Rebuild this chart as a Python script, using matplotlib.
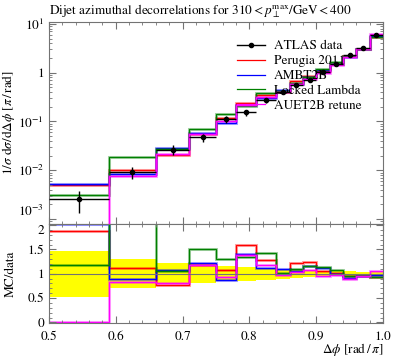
import numpy as np
import matplotlib
matplotlib.use("Agg")
import matplotlib.pyplot as plt
from matplotlib.ticker import MultipleLocator, LogLocator, NullFormatter, FixedLocator
from matplotlib.lines import Line2D

plt.rcParams['font.family'] = ['STIXGeneral', 'DejaVu Serif']
plt.rcParams['mathtext.fontset'] = 'stix'

# bin edges in delta phi [rad/pi]
edges = [0.5, 0.59, 0.66, 0.71, 0.75, 0.78, 0.81, 0.84, 0.86, 0.88, 0.90, 0.92, 0.94, 0.96, 0.98, 1.0]

# ATLAS data and relative uncertainties
data = [2.6e-3, 9.2e-3, 0.0265, 0.047, 0.11, 0.153, 0.27, 0.41, 0.56, 0.70, 1.04, 1.5, 2.3, 3.2, 5.9]
rel_up = [0.47, 0.30, 0.23, 0.20, 0.16, 0.13, 0.11, 0.09, 0.08, 0.07, 0.06, 0.05, 0.05, 0.04, 0.04]
rel_dn = [0.48, 0.29, 0.21, 0.20, 0.14, 0.14, 0.12, 0.10, 0.08, 0.07, 0.06, 0.05, 0.05, 0.04, 0.04]

# MC predictions
perugia = [4.9e-3, 0.0103, 0.0204, 0.055, 0.119, 0.242, 0.348, 0.41, 0.678, 0.875, 1.09, 1.53, 2.21, 3.07, 5.49]
ambt2b = [5.27e-3, 0.0083, 0.0286, 0.057, 0.095, 0.216, 0.302, 0.451, 0.594, 0.805, 1.16, 1.49, 2.09, 3.07, 5.72]
locked = [3.05e-3, 0.0189, 0.0278, 0.0705, 0.143, 0.205, 0.383, 0.414, 0.616, 0.812, 1.19, 1.62, 2.21, 3.1, 5.49]
auet2b = [0.0, 7.6e-3, 0.0217, 0.055, 0.102, 0.213, 0.316, 0.402, 0.577, 0.749, 0.99, 1.46, 2.05, 3.07, 6.2]

mc_names = ['Perugia 2011', 'AMBT2B', 'Locked Lambda', 'AUET2B retune']
mc_vals = [perugia, ambt2b, locked, auet2b]
mc_colors = ['red', 'blue', 'green', 'magenta']

edges_a = np.array(edges)
data_a = np.array(data)
centers = 0.5 * (edges_a[1:] + edges_a[:-1])
half = 0.5 * np.diff(edges_a)

fs = 9.5
fig = plt.figure(figsize=(3.97, 3.58), dpi=100)
ax = fig.add_axes([0.123, 0.374, 0.842, 0.565])
rax = fig.add_axes([0.123, 0.098, 0.842, 0.276], sharex=ax)

spine_col = '0.45'
for a in (ax, rax):
    for s in a.spines.values():
        s.set_color(spine_col)
        s.set_linewidth(0.8)
    a.tick_params(which='both', direction='in', top=True, right=True, color=spine_col, labelsize=fs)
    a.tick_params(which='major', length=5)
    a.tick_params(which='minor', length=2.5)

# main panel
ax.set_yscale('log')
for vals, col in zip(mc_vals, mc_colors):
    v = np.array(vals)
    ax.stairs(v, edges_a, baseline=None, color=col, lw=2.2, alpha=0.35)
    ax.stairs(v, edges_a, baseline=None, color=col, lw=0.9)
ax.errorbar(centers, data_a, xerr=half, yerr=[data_a * np.array(rel_dn), data_a * np.array(rel_up)],
            fmt='o', color='black', ms=3, elinewidth=1, capsize=0, zorder=5)
ax.set_xlim(0.5, 1.0)
ax.set_ylim(7.9e-4, 11)
ax.yaxis.set_major_locator(FixedLocator([1e-3, 1e-2, 1e-1, 1, 10]))
ax.yaxis.set_minor_locator(LogLocator(base=10, subs=np.arange(2, 10)))
ax.yaxis.set_minor_formatter(NullFormatter())
ax.set_yticklabels([r'$10^{-3}$', r'$10^{-2}$', r'$10^{-1}$', '1', r'$10^{1}$'])
ax.get_yticklabels()[0].set_va('bottom')
ax.xaxis.set_major_locator(MultipleLocator(0.1))
ax.xaxis.set_minor_locator(MultipleLocator(0.02))
plt.setp(ax.get_xticklabels(), visible=False)
ax.set_ylabel(r'$1/\sigma\ \mathrm{d}\sigma/\mathrm{d}\Delta\phi\ [\pi\,/\,\mathrm{rad}]$', fontsize=fs)
ax.set_title(r'Dijet azimuthal decorrelations for $310 < p_{\perp}^{\mathrm{max}}/\mathrm{GeV} < 400$',
             loc='left', fontsize=9.5, pad=5)

handles = [Line2D([], [], color='black', marker='o', ms=3, lw=1)]
handles += [Line2D([], [], color=c, lw=0.9) for c in mc_colors]
ax.legend(handles, ['ATLAS data'] + mc_names, loc='upper left', bbox_to_anchor=(0.535, 0.955),
          frameon=False, fontsize=fs, handlelength=2.1, handletextpad=0.7, labelspacing=0.2,
          borderpad=0.2)

# ratio panel
rax.stairs(1 + np.array(rel_up), edges_a, baseline=1 - np.array(rel_dn), fill=True,
           color='yellow', lw=0)
rax.axhline(1, color='0.45', lw=0.8)
for vals, col in zip(mc_vals, mc_colors):
    r = np.array(vals) / data_a
    rax.stairs(r, edges_a, baseline=None, color=col, lw=2.2, alpha=0.35)
    rax.stairs(r, edges_a, baseline=None, color=col, lw=0.9)
rax.set_ylim(-0.01, 2.02)
rax.yaxis.set_major_locator(FixedLocator([0, 0.5, 1, 1.5, 2]))
rax.yaxis.set_minor_locator(MultipleLocator(0.1))
rax.set_yticklabels(['0', '0.5', '1', '1.5', '2'])
rax.get_yticklabels()[-1].set_va('top')
rax.set_xticks([0.5, 0.6, 0.7, 0.8, 0.9, 1.0])
rax.set_xticklabels(['0.5', '0.6', '0.7', '0.8', '0.9', '1.0'])
rax.tick_params(axis='x', pad=6)
rax.set_ylabel('MC/data', fontsize=fs)
rax.set_xlabel(r'$\Delta\phi$ [rad$\,/\,\pi$]', fontsize=fs, ha='right')
rax.xaxis.set_label_coords(1.0, -0.18)
rax.xaxis.label.set_va('top')

ax.yaxis.set_label_coords(-0.095, 0.5)
rax.yaxis.set_label_coords(-0.095, 0.5)

fig.savefig('out.png', dpi=100)
